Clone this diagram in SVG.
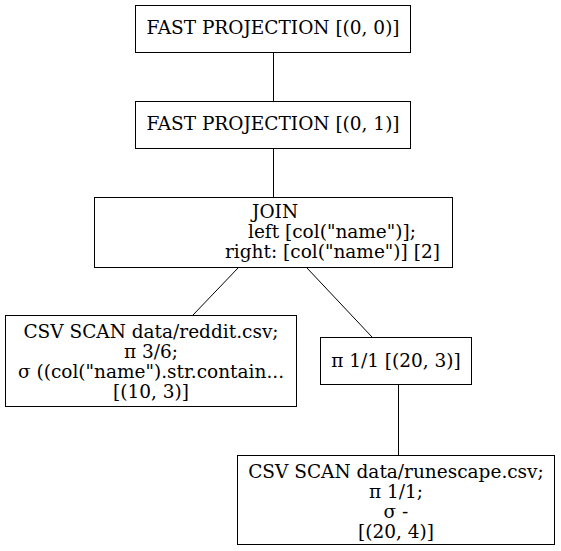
<svg xmlns="http://www.w3.org/2000/svg" width="561" height="551" viewBox="0 0 561 551">
<style>
rect{fill:#fff;stroke:#000;stroke-width:1}
text{font-family:"DejaVu Serif",serif;font-size:18.5px;fill:#000}
.c{text-anchor:middle}
.e{stroke:#000;stroke-width:1;fill:none}
</style>
<rect x="0" y="0" width="561" height="551" style="stroke:none"/>
<g id="connectors">
<path class="e" d="M273.5,52.5 L273.5,101"/>
<path class="e" d="M273.5,148.5 L273.5,197"/>
<path class="e" d="M238,268 L193,315"/>
<path class="e" d="M307,268 L372,337"/>
<path class="e" d="M398.5,384.5 L398.5,455"/>
</g>
<g id="n0">
<rect x="135.5" y="5.5" width="275" height="47"/>
<text class="c" x="273" y="34">FAST PROJECTION [(0, 0)]</text>
</g>
<g id="n1">
<rect x="135.5" y="101.5" width="275" height="47"/>
<text class="c" x="273" y="130">FAST PROJECTION [(0, 1)]</text>
</g>
<g id="join">
<rect x="94.5" y="197.5" width="358" height="70"/>
<text x="252" y="218">JOIN</text>
<text x="248" y="238">left [col("name")];</text>
<text x="225" y="258">right: [col("name")] [2]</text>
</g>
<g id="reddit">
<rect x="5.5" y="315.5" width="291" height="91"/>
<text class="c" x="151" y="338">CSV SCAN data/reddit.csv;</text>
<text class="c" x="151" y="358">π 3/6;</text>
<text class="c" x="151" y="378">σ ((col("name").str.contain...</text>
<text class="c" x="151" y="398">[(10, 3)]</text>
</g>
<g id="proj">
<rect x="320.5" y="337.5" width="151" height="47"/>
<text class="c" x="396" y="367">π 1/1 [(20, 3)]</text>
</g>
<g id="rune">
<rect x="237.5" y="455.5" width="317" height="89"/>
<text class="c" x="396" y="478">CSV SCAN data/runescape.csv;</text>
<text class="c" x="396" y="498">π 1/1;</text>
<text class="c" x="396" y="518">σ -</text>
<text class="c" x="396" y="538">[(20, 4)]</text>
</g>
</svg>
